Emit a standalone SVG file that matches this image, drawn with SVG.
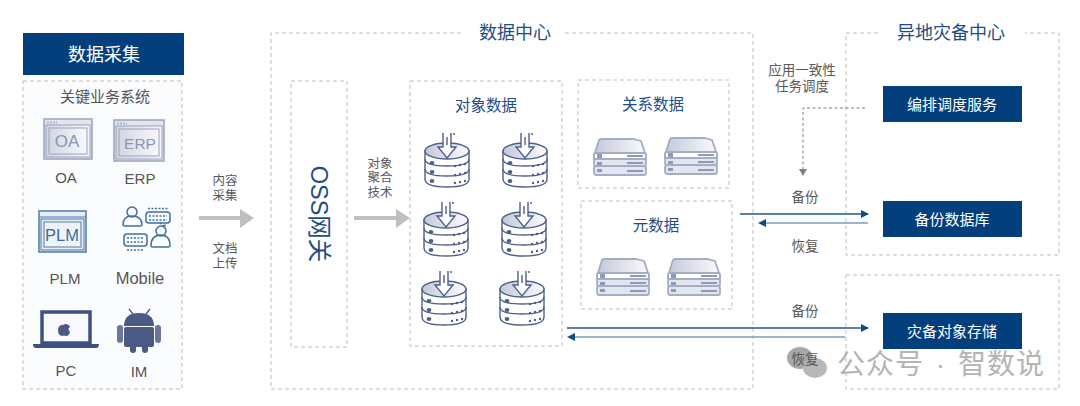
<svg xmlns="http://www.w3.org/2000/svg" width="1080" height="406" viewBox="0 0 1080 406">
<style>
text{font-family:"Liberation Sans","Noto Sans CJK SC",sans-serif;text-anchor:middle}
.dash{fill:none;stroke:#bdbdbd;stroke-width:1;stroke-dasharray:4 3}
.head{fill:#033f7c}
.wh{fill:#fff;font-size:15px}
.t{fill:#595959;font-size:13.5px}
.s{fill:#595959;font-size:12.5px}
.lt{fill:#555;font-size:15px}
.bt{fill:#1f4e85;font-size:15.5px}
.big{fill:#1f4e85;font-size:18px}
.ln{stroke:#1d5a93;stroke-width:1.3;fill:none}
.ln2{stroke:#7b9cc0;stroke-width:1.6;fill:none}
.ar{stroke:#bfbfbf;stroke-width:4;fill:none}
.db{fill:#fff;stroke:#4e6088;stroke-width:1.4}
.win{fill:#e3e5ee;stroke:#98a2bb;stroke-width:1.5}
.wt{fill:#8b95ae}
.bar{stroke:#aeb6cb;stroke-width:2;stroke-dasharray:2 1;fill:none}
</style>
<defs>
<linearGradient id="g" x1="0" x2="1"><stop offset="0" stop-color="#c3c9da"/><stop offset="1" stop-color="#fbfbfd"/></linearGradient>
<linearGradient id="w" x1="0" x2="1"><stop offset="0" stop-color="#d3d7e4"/><stop offset="1" stop-color="#f7f8fb"/></linearGradient>
<marker id="mb" markerUnits="userSpaceOnUse" markerWidth="8" markerHeight="8" refX="7" refY="4" orient="auto"><path d="M0 0L8 4L0 8Z" fill="#0f4c86"/></marker>
<marker id="mg" markerUnits="userSpaceOnUse" markerWidth="8" markerHeight="8" refX="6" refY="4" orient="auto"><path d="M0 0L7 4L0 8Z" fill="#808080"/></marker>
<symbol id="db" width="48" height="58" viewBox="0 0 48 58" overflow="visible">
<path class="db" d="M2 20V48Q2 56 24 56Q46 56 46 48V20Z"/>
<path d="M2 28Q2 35 24 35Q46 35 46 28M2 38Q2 45 24 45Q46 45 46 38" fill="none" stroke="#4e6088" stroke-width="1.4"/>
<ellipse cx="24" cy="20" rx="22" ry="8" fill="url(#g)" stroke="#4e6088" stroke-width="1.4"/>
<path d="M20 2V16H15L24 27L33 16H28V2M24 6V14" fill="#fff" stroke="#4e6088" stroke-width="1.4"/>
<circle cx="31" cy="3" r="1" fill="#4e6088"/>
<g fill="#4e6088"><ellipse cx="9" cy="32" rx="2.4" ry="2"/><ellipse cx="9" cy="41" rx="2.4" ry="2"/><ellipse cx="9" cy="50" rx="2.4" ry="2"/>
<circle cx="32" cy="35" r="1.2"/><circle cx="37" cy="34" r="1.2"/><circle cx="42" cy="33" r="1.2"/>
<circle cx="32" cy="44" r="1.2"/><circle cx="37" cy="43" r="1.2"/><circle cx="42" cy="42" r="1.2"/>
<circle cx="32" cy="52" r="1.2"/><circle cx="37" cy="51" r="1.2"/><circle cx="42" cy="50" r="1.2"/></g>
</symbol>
<symbol id="sv" width="54" height="38" viewBox="0 0 54 38" overflow="visible">
<g fill="#e3e6ef" stroke="#a3adc6" stroke-width="1.8">
<rect x="1" y="28" width="52" height="9" rx="2"/>
<rect x="1" y="19" width="52" height="9" rx="2"/>
<path d="M1 18L6 2Q7 1 9 1H40L48 3L53 18V19H1Z" fill="url(#g)"/>
<rect x="1" y="15" width="52" height="6" rx="2" fill="#fff"/></g>
<g fill="#8f9ab5"><rect x="4" y="16" width="5" height="4"/><rect x="4" y="24" width="5" height="3"/><rect x="4" y="31" width="5" height="3"/><rect x="34" y="17" width="16" height="2"/><rect x="34" y="24" width="16" height="2"/><rect x="34" y="32" width="16" height="2"/></g>
</symbol>
</defs>

<g id="collect">
<rect class="head" x="23" y="33" width="161" height="42"/>
<text class="wh" x="104" y="61" style="font-size:18px">数据采集</text>
<rect x="23" y="81" width="159" height="308" fill="#fbfcfe" stroke="#bdbdbd" stroke-dasharray="4 3"/>
<text x="105" y="102" fill="#555" font-size="15">关键业务系统</text>
</g>
<g id="oa">
<rect class="win" x="44" y="119" width="48" height="40"/><path class="bar" d="M47 122.500H57"/><rect x="46" y="125" width="44" height="32" fill="url(#w)" stroke="#98a2bb"/><rect x="49" y="128" width="38" height="26" fill="url(#w)" stroke="#98a2bb"/>
<text class="wt" x="67" y="147" font-size="17">OA</text>
<text class="lt" x="66" y="183">OA</text>
</g>
<g id="erp">
<rect class="win" x="114" y="120" width="50" height="41"/><path class="bar" d="M117 123.500H127"/><rect x="116" y="126" width="46" height="33" fill="url(#w)" stroke="#98a2bb"/><rect x="119" y="129" width="40" height="27" fill="url(#w)" stroke="#98a2bb"/>
<text class="wt" x="140" y="149" font-size="15.500">ERP</text>
<text class="lt" x="140" y="184">ERP</text>
</g>
<g id="plm">
<rect x="39" y="211" width="47" height="41" fill="#e6edf5" stroke="#4f7aa6" stroke-width="1.500"/><path d="M39 217H86" stroke="#4f7aa6"/><rect x="41" y="219" width="43" height="31" fill="#e6edf5" stroke="#4f7aa6"/><rect x="44" y="222" width="37" height="25" fill="#eef3f8" stroke="#4f7aa6"/>
<text x="62" y="241" fill="#3d6a9b" font-size="16.500">PLM</text>
<text class="lt" x="65" y="284">PLM</text>
</g>
<g id="mobile" fill="none" stroke="#3f6f9f" stroke-width="1.500">
<circle cx="132" cy="212" r="5"/><path d="M123 225Q123 216 132 216Q142 216 142 225Q142 226 140 226H125Q123 226 123 225Z"/>
<circle cx="161" cy="231" r="5"/><path d="M151 246Q151 235 161 235Q170 235 170 246Q170 247 168 247H153Q151 247 151 246Z"/>
<rect x="146" y="212" width="24" height="11" rx="3"/><path d="M149 216H167M149 220H167M148 208.500H168M160 223L165 227V223" stroke-dasharray="2 1.500"/>
<rect x="124" y="234" width="23" height="12" rx="3"/><path d="M127 238H144M127 242H144M127 250H144" stroke-dasharray="2 1.500"/>
<text class="lt" x="140" y="284" stroke="none" style="font-size:16.500px">Mobile</text>
</g>
<g id="pc">
<rect x="42" y="312" width="48" height="31" fill="#f8f9fc" stroke="#3f5080" stroke-width="3.500"/>
<path d="M33 344H99Q99 348 96 348H36Q33 348 33 344Z" fill="#3f5080"/>
<path d="M58 331Q58 325 62 325Q64 325 65 324Q69 324 70 327Q67 329 70 332Q69 336 66 336Q64 335 62 336Q58 335 58 331Z" fill="#4b5a85"/>
<text class="lt" x="66" y="376">PC</text>
</g>
<g id="im">
<path d="M129 309L133 314M150 309L146 314" stroke="#4b5a85" stroke-width="1.300"/>
<path d="M124 326Q124 313 139 313Q154 313 154 326Z" fill="#4b5a85"/>
<rect x="124" y="327" width="30" height="20" rx="2" fill="#4b5a85"/>
<rect x="117" y="325" width="6" height="18" rx="3" fill="#6a769a"/><rect x="155" y="325" width="6" height="18" rx="3" fill="#6a769a"/>
<rect x="130" y="344" width="6" height="9" rx="3" fill="#4b5a85"/><rect x="142" y="344" width="6" height="9" rx="3" fill="#4b5a85"/>
<text class="lt" x="139" y="377">IM</text>
</g>
<g id="ingest">
<text class="s" x="225" y="185">内容</text><text class="s" x="225" y="200">采集</text>
<text class="s" x="225" y="253">文档</text><text class="s" x="225" y="268">上传</text>
</g>
<g id="center">
<path class="dash" d="M461 33H271V389H753V33H562"/>
<text class="big" x="515" y="39">数据中心</text>
</g>
<g id="oss">
<rect class="dash" x="291" y="81" width="56" height="266"/>
<text transform="translate(319 214) rotate(90)" fill="#1f4e85" font-size="23.500" dominant-baseline="central">OSS网关</text>
</g>
<g id="agg"><text class="s" x="380" y="168">对象</text><text class="s" x="380" y="182">聚合</text><text class="s" x="380" y="197">技术</text></g>
<g id="object">
<rect class="dash" x="410" y="81" width="152" height="265"/>
<text class="bt" x="486" y="111">对象数据</text>
<use href="#db" x="423" y="131"/><use href="#db" x="501" y="131"/><use href="#db" x="422" y="200"/><use href="#db" x="500" y="200"/><use href="#db" x="420" y="269"/><use href="#db" x="498" y="269"/>
</g>
<g id="relational">
<rect class="dash" x="578" y="80" width="151" height="108"/>
<text class="bt" x="653" y="110">关系数据</text>
<use href="#sv" x="593" y="138"/><use href="#sv" x="664" y="137"/>
</g>
<g id="meta">
<rect class="dash" x="581" y="201" width="151" height="108"/>
<text class="bt" x="656" y="231">元数据</text>
<use href="#sv" x="596" y="258"/><use href="#sv" x="667" y="258"/>
</g>
<g id="dr">
<path class="dash" d="M878 33H846V255H1059V33H1025"/>
<text class="big" x="951" y="39">异地灾备中心</text>
<rect class="dash" x="846" y="275" width="213" height="114"/>
</g>
<g id="sched"><rect class="head" x="883" y="86" width="139" height="36"/><text class="wh" x="952" y="110">编排调度服务</text></g>
<g id="backupdb"><rect class="head" x="883" y="201" width="139" height="36"/><text class="wh" x="952" y="225">备份数据库</text></g>
<g id="drstore"><rect class="head" x="883" y="313" width="139" height="36"/><text class="wh" x="952" y="337">灾备对象存储</text></g>
<g id="connectors">
<path class="ar" d="M199 218H241"/><path d="M240 209L254 218L240 228Z" fill="#bfbfbf"/>
<path class="ar" d="M354 218H397"/><path d="M396 209L410 218L396 228Z" fill="#bfbfbf"/>
<path d="M865 108H803V175" fill="none" stroke="#808080" stroke-dasharray="3 2.500" marker-end="url(#mg)"/>
<path class="ln" d="M740 214H868" marker-end="url(#mb)"/>
<path class="ln2" d="M868 223H765"/><path d="M758 223L766 219V227Z" fill="#0f4c86"/>
<path class="ln" d="M567 328H868" marker-end="url(#mb)"/>
<path class="ln2" d="M845 337H575"/><path d="M567 337L575 333V341Z" fill="#0f4c86"/>
</g>
<g id="labels">
<text class="t" x="802" y="75">应用一致性</text><text class="t" x="802" y="91">任务调度</text>
<text class="t" x="805" y="202">备份</text><text class="t" x="805" y="251">恢复</text>
<text class="t" x="805" y="316">备份</text>
</g>
<g id="watermark">
<ellipse cx="800" cy="358" rx="13" ry="11" fill="#a8a8a8"/><ellipse cx="815" cy="368" rx="12" ry="10" fill="#b8b8b8"/>
<text class="t" x="805" y="364">恢复</text>
<text x="941" y="374" fill="#b4b4b4" font-size="28" style="letter-spacing:1px;word-spacing:3px">公众号 · 智数说</text>
</g>
</svg>
